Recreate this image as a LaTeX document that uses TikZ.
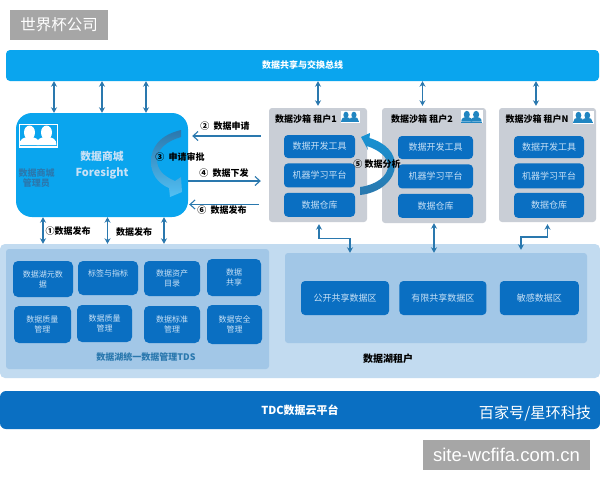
\documentclass[tikz,border=0pt]{standalone}
\usepackage{fontspec}
\setmainfont{Noto Sans CJK SC}
\newfontfamily\markfont{Liberation Sans}
\usepackage{xcolor}
\usetikzlibrary{arrows.meta, positioning, calc}

\definecolor{busblue}{HTML}{0AA5EE}
\definecolor{deepblue}{HTML}{0A6FC2}
\definecolor{lakeblue}{HTML}{C2DBF0}
\definecolor{panelblue}{HTML}{A2C7E7}
\definecolor{sandgray}{HTML}{C9CED6}
\definecolor{linkblue}{HTML}{2A78AE}
\definecolor{softwhite}{HTML}{C8E1F6}

\tikzset{
  people/.pic={
    \fill [pic actions] (0,0) rectangle (38,23);
    \draw [frame] (0,0) rectangle (38,23);
    \foreach \cx in {10.5,27.5} {
      \fill [fg] (\cx,8.5) ellipse (5.5 and 7);
      \fill [fg] (\cx-10,21) .. controls (\cx-10,15) and (\cx-6,13) .. (\cx,13) .. controls (\cx+6,13) and (\cx+10,15) .. (\cx+10,21) -- cycle;
    }
    \fill [fg] (0,21.5) rectangle (38,23);
  },
  fg/.style={fill=white},
  frame/.style={draw=white, line width=0.4pt}
}

\begin{document}
\begin{tikzpicture}[x=1pt, y=-1pt]
    \tikzstyle{plate} = [rectangle, inner sep=0pt, text=white, font=\fontsize{9}{11}\selectfont\bfseries]
    \tikzstyle{sandbox} = [rectangle, fill=sandgray, rounded corners=3pt, inner sep=0pt]
    \tikzstyle{tool} = [rectangle, fill=deepblue, rounded corners=4pt, inner sep=0pt, text=softwhite, align=center, font=\fontsize{9}{11}\selectfont]
    \tikzstyle{lakebox} = [tool, rounded corners=5pt, font=\fontsize{8}{10}\selectfont]
    \tikzstyle{caption} = [inner sep=0pt, align=center, font=\fontsize{9}{11}\selectfont\bfseries]
    \tikzstyle{stamp} = [rectangle, fill=black!35, inner sep=0pt, text=white]
    \tikzstyle{both} = [draw=linkblue, line width=1.1pt, {Stealth[length=5.5pt,width=6pt]}-{Stealth[length=5.5pt,width=6pt]}]
    \tikzstyle{open} = [draw=linkblue, line width=1.1pt, -{Straight Barb[length=5pt,width=9pt]}]

    \useasboundingbox (0,0) rectangle (600,480);
    \fill [white] (0,0) rectangle (600,480);

    \node [stamp, minimum width=98pt, minimum height=30pt, font=\fontsize{15.5}{16}\selectfont] (topmark) at (59,25) {世界杯公司};
    \node [plate, fill=busblue, rounded corners=4pt, minimum width=593pt, minimum height=31pt] (bus) at (302.5,65.5) {数据共享与交换总线};

    % market
    \node [rectangle, fill=busblue, rounded corners=16pt, minimum width=172pt, minimum height=104pt, inner sep=0pt] (market) at (102,165) {};
    \node [caption, text=softwhite, font=\fontsize{10.8}{16}\selectfont\bfseries] (markettitle) at (102,165) {数据商城\\\fontsize{11}{14}\selectfont Foresight};
    \node [caption, text=linkblue, font=\fontsize{9}{10.5}\selectfont\bfseries] (marketadmin) at (36.5,178) {数据商城\\管理员};
    \pic [fill=busblue] at (19,124) {people};

    % sandboxes
    \node [sandbox, minimum width=98pt, minimum height=114pt] (sand1) at (318,165) {};
    \node [sandbox, minimum width=104pt, minimum height=115pt] (sand2) at (434,165.5) {};
    \node [sandbox, minimum width=97pt, minimum height=114pt] (sand3) at (547.5,165) {};

    \node [caption] (sandname1) at (306,119) {数据沙箱 租户1};
    \node [caption] (sandname2) at (422,119) {数据沙箱 租户2};
    \node [caption] (sandname3) at (537,119) {数据沙箱 租户N};
    \pic [scale=0.47, fg/.style={fill=linkblue!70!busblue}, frame/.style={draw=white}, fill=white] at (341,111) {people};
    \pic [scale=0.55, fg/.style={fill=linkblue!70!busblue}, frame/.style={draw=white}, fill=white] at (461,110) {people};
    \pic [scale=0.52, fg/.style={fill=linkblue!70!busblue}, frame/.style={draw=white}, fill=white] at (573,111) {people};

    \node [tool, minimum width=71pt, minimum height=23pt] (devone) at (319.5,146.5) {数据开发工具};
    \node [tool, minimum width=71pt, minimum height=24pt, below=5pt of devone] (mlone) {机器学习平台};
    \node [tool, minimum width=71pt, minimum height=24pt, below=5pt of mlone] (dwone) {数据仓库};

    \node [tool, minimum width=75pt, minimum height=23pt] (devtwo) at (435.5,147.5) {数据开发工具};
    \node [tool, minimum width=75pt, minimum height=24pt, below=5pt of devtwo] (mltwo) {机器学习平台};
    \node [tool, minimum width=75pt, minimum height=24pt, below=5pt of mltwo] (dwtwo) {数据仓库};

    \node [tool, minimum width=70pt, minimum height=22pt] (devn) at (549,147) {数据开发工具};
    \node [tool, minimum width=70pt, minimum height=25pt, below=5pt of devn] (mln) {机器学习平台};
    \node [tool, minimum width=70pt, minimum height=25pt, below=4pt of mln] (dwn) {数据仓库};

    % lake
    \node [rectangle, fill=lakeblue, rounded corners=5pt, minimum width=600pt, minimum height=134pt, inner sep=0pt] (lake) at (300,311) {};
    \node [rectangle, fill=panelblue, rounded corners=3pt, minimum width=263pt, minimum height=120pt, inner sep=0pt] (tdspanel) at (137.5,309) {};
    \node [rectangle, fill=panelblue, rounded corners=3pt, minimum width=302pt, minimum height=90pt, inner sep=0pt] (tenantpanel) at (436,298) {};

    \node [lakebox, minimum width=60pt, minimum height=36pt] (meta) at (43,279) {数据湖元数\\据};
    \node [lakebox, minimum width=60pt, minimum height=34pt] (tags) at (108,278) {标签与指标\\~};
    \node [lakebox, minimum width=56pt, minimum height=35pt] (assets) at (172,278.5) {数据资产\\目录};
    \node [lakebox, minimum width=54pt, minimum height=37pt] (share) at (234,277.5) {数据\\共享};
    \node [lakebox, minimum width=57pt, minimum height=37pt] (qualone) at (42.5,324.5) {数据质量\\管理};
    \node [lakebox, minimum width=55pt, minimum height=37pt] (qualtwo) at (104.5,323.5) {数据质量\\管理};
    \node [lakebox, minimum width=56pt, minimum height=37pt] (standard) at (172,324.5) {数据标准\\管理};
    \node [lakebox, minimum width=55pt, minimum height=39pt] (safety) at (234.5,324.5) {数据安全\\管理};
    \node [caption, text=linkblue] (tdsname) at (146,357) {数据湖统一数据管理TDS};

    \node [tool, minimum width=88pt, minimum height=34pt] (publiczone) at (345,298) {公开共享数据区};
    \node [tool, minimum width=87pt, minimum height=34pt, right=10pt of publiczone] (limitzone) {有限共享数据区};
    \node [tool, minimum width=79pt, minimum height=34pt, right=13pt of limitzone] (securezone) {敏感数据区};
    \node [caption, font=\fontsize{10}{12}\selectfont\bfseries] (tenantname) at (388,359) {数据湖租户};

    % platform
    \node [plate, fill=deepblue, rounded corners=6pt, minimum width=600pt, minimum height=38pt, font=\fontsize{11}{13}\selectfont\bfseries] (tdc) at (300,410) {TDC数据云平台};
    \node [inner sep=0pt, text=white, font=\fontsize{15.2}{17}\selectfont] (source) at (535,413) {百家号/星环科技};
    \node [stamp, minimum width=167pt, minimum height=30pt, font=\markfont\fontsize{18.5}{20}\selectfont] (sitemark) at (506.5,455) {site-wcfifa.com.cn};

    % lanes
    \coordinate (upa) at (54,0);
    \coordinate (upb) at (102,0);
    \coordinate (upc) at (146,0);
    \coordinate (upd) at (318,0);
    \coordinate (upe) at (422.5,0);
    \coordinate (upf) at (536,0);
    \coordinate (downa) at (43,0);
    \coordinate (downb) at (107.5,0);
    \coordinate (downc) at (164,0);
    \coordinate (rowa) at (0,136);
    \coordinate (rowb) at (0,181);
    \coordinate (rowc) at (0,204.5);

    \path [both] (bus.south -| upa) -- (market.north -| upa);
    \path [both] (bus.south -| upb) -- (market.north -| upb);
    \path [both] (bus.south -| upc) -- (market.north -| upc);
    \path [both] (bus.south -| upd) -- ($(sand1.north -| upd)+(0,-2)$);
    \path [both] (bus.south -| upe) -- ($(sand2.north -| upe)+(0,-2)$);
    \path [both] (bus.south -| upf) -- ($(sand3.north -| upf)+(0,-2)$);

    \path [both] (market.south -| downa) -- (lake.north -| downa);
    \path [both] (market.south -| downb) -- (lake.north -| downb);
    \path [both] (market.south -| downc) -- (lake.north -| downc);

    \path [open] ($(sand1.west |- rowa)+(-8,0)$) -- ($(market.east |- rowa)+(4,0)$);
    \path [open] (market.east |- rowb) -- ($(sand1.west |- rowb)+(-8,0)$);
    \path [open] ($(sand1.west |- rowc)+(-10,0)$) -- ($(market.east |- rowc)+(1,0)$);

    \coordinate (bendone) at (319,238.5);
    \coordinate (bendtwo) at (350,238.5);
    \coordinate (bendthree) at (547.5,237);
    \coordinate (bendfour) at (521,237);
    \path [both] ($(sand1.south -| bendone)+(0,2)$) -- (bendone) -- (bendtwo) -- (tenantpanel.north -| bendtwo);
    \path [both] (sand2.south) -- (tenantpanel.north -| sand2.south);
    \path [both] ($(sand3.south -| bendthree)+(0,2)$) -- (bendthree) -- (bendfour) -- ($(tenantpanel.north -| bendfour)+(0,-3)$);

    % curved arrows
    \shade [top color=linkblue, middle color=busblue!60!linkblue, bottom color=busblue!70!white, draw=none]
      (181,130) .. controls (160,135) and (151,147) .. (151,162) .. controls (151,173) and (157,183) .. (169,188)
      -- (170,197) -- (182,192) -- (181,177) -- (175,181) .. controls (163,176) and (157,169) .. (157,160)
      .. controls (157,149) and (167,141) .. (181,137) -- cycle;
    \shade [top color=busblue!60!linkblue, bottom color=linkblue, draw=none]
      (361,137) -- (370,133) -- (369.5,138) .. controls (386,143) and (395,153) .. (395,165)
      .. controls (395,180) and (380,193) .. (360,195) -- (360,187)
      .. controls (376,185) and (388,176) .. (388,166) .. controls (388,157) and (379,150) .. (367,146)
      -- (368,150) -- cycle;

    % labels
    \node [caption] (labelb) at (225,126) {②\ \ 数据申请};
    \node [caption] (labelc) at (180,157) {③\ \ 申请审批};
    \node [caption] (labeld) at (224,173) {④\ \ 数据下发};
    \node [caption] (labelf) at (222,210) {⑥\ \ 数据发布};
    \node [caption] (labela) at (68,231) {①数据发布};
    \node [caption] (labelg) at (134,232) {数据发布};
    \node [caption] (labele) at (377,164) {⑤ 数据分析};
\end{tikzpicture}
\end{document}
